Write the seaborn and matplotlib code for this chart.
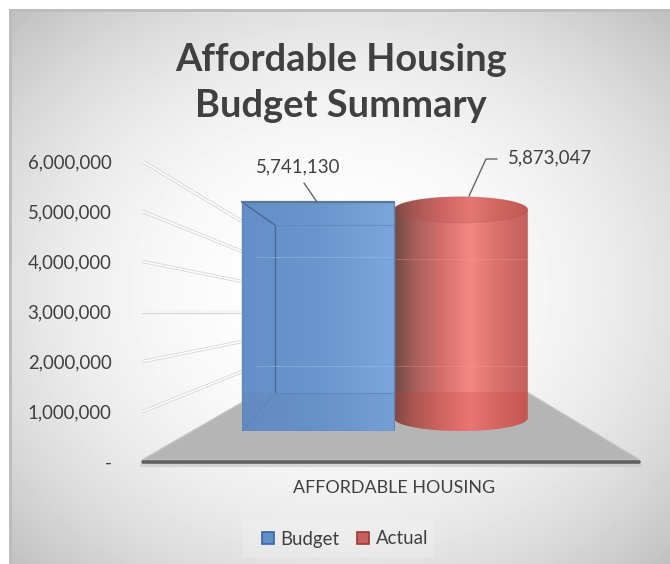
import numpy as np
import pandas as pd
import matplotlib
matplotlib.use('Agg')
import matplotlib.pyplot as plt
import seaborn as sns
from matplotlib.colors import LinearSegmentedColormap
from matplotlib.patches import Ellipse, Patch, Polygon, Rectangle

categories = ['AFFORDABLE HOUSING']
series = ['Budget', 'Actual']
values = [5741130, 5873047]
axis_ticks = [0, 1000000, 2000000, 3000000, 4000000, 5000000, 6000000]
title = 'Affordable Housing\nBudget Summary'

W, H = 670, 564
BLUE = '#5f8fc9'
RED = '#c9605c'
TEXT = '#404040'

sns.set_theme(style='white')
plt.rcParams['font.family'] = ['Lato', 'DejaVu Sans']


def px_axes(fig, left, top, right, bottom, zorder):
    a = fig.add_axes([left / W, 1 - bottom / H, (right - left) / W, (bottom - top) / H])
    a.set_zorder(zorder)
    a.patch.set_alpha(0)
    return a


df = pd.DataFrame({
    'Category': categories * len(series),
    'Series': series,
    'Value': values,
})

fig = plt.figure(figsize=(W / 100, H / 100), dpi=100, facecolor='white')

# background panel, everything here in pixels
back = px_axes(fig, 0, 0, W, H, 0)
back.axis('off')
xx, yy = np.meshgrid(np.arange(9, W), np.arange(9, H))
r = np.sqrt(((xx - 340) / 330) ** 2 + ((yy - 290) / 280) ** 2)
shade = np.clip(255 - 30 * r ** 2.2, 190, 255) / 255
back.imshow(shade, extent=(9, W, H, 9), cmap='gray', vmin=0, vmax=1, aspect='auto')
back.set_xlim(0, W)
back.set_ylim(H, 0)
back.plot([9.5, 9.5, W], [H, 9.5, 9.5], color='#bcbcbc', lw=2)

# floor of the 3d box
back.add_patch(Polygon([(142, 460), (640, 460), (525, 391), (262, 391)], fc='#b5b5b5', ec='#c4c4c4', lw=1))
back.plot([142, 640], [464.5, 464.5], color='#c8c8c8', lw=3, alpha=0.7, solid_capstyle='round')
back.plot([143, 639], [462, 462], color='#606060', lw=2.6, solid_capstyle='round')

# value axis with the tick labels, and the side wall lines
main = px_axes(fig, 142, 161, 640, 462, 1)
main.set_ylim(0, 6000000)
main.set_xlim(0, 1)
main.set_xticks([])
main.set_yticks(axis_ticks)
main.set_yticklabels(['-' if t == 0 else f'{t:,}' for t in axis_ticks], fontsize=13.4, color=TEXT)
main.tick_params(axis='y', length=0, pad=22)
for s in main.spines.values():
    s.set_visible(False)
for t in axis_ticks[1:]:
    back_y = 3000000 + 0.6 * (t - 3000000)
    main.plot([0, 0.2], [t, back_y], color='#cfcfcf', lw=2.4, alpha=0.8)
    main.plot([0, 0.2], [t, back_y], color='white', lw=1.1)

# the bars, same baseline for both, 0 sits at the front of the floor
bars = px_axes(fig, 142, 161, 640, 431, 2)
sns.barplot(data=df, x='Category', y='Value', hue='Series', hue_order=series,
            palette=[BLUE, RED], width=0.8, legend=False, ax=bars)
bars.set_xlabel('')
bars.set_ylabel('')
bars.set_yticks([])
bars.set_ylim(0, values[0] * 270 / 229)
bars.set_xlim(-0.752, 0.735)
bars.tick_params(axis='x', length=0, pad=35, labelsize=12.9, labelcolor=TEXT)
for s in bars.spines.values():
    s.set_visible(False)

budget = bars.containers[0][0]
actual = bars.containers[1][0]
# budget box is a bit wider than the cylinder
extra = 0.4 * 18 / 134
budget.set_x(budget.get_x() - extra)
budget.set_width(budget.get_width() + extra)

x0, x1 = budget.get_x(), budget.get_x() + budget.get_width()
top = budget.get_height()
dy = top / 229  # one pixel in data units
dx = 0.4 / 134

# blue box
blue_cmap = LinearSegmentedColormap.from_list('b', ['#658fc6', '#6a96cd', '#7aa6dc'])
im = bars.imshow(np.linspace(0, 1, 200).reshape(1, -1), extent=(x0, x1, 0, top), cmap=blue_cmap,
                 aspect='auto', zorder=3)
im.set_clip_path(budget)
inner_x = x0 + 33 * dx
bars.add_patch(Rectangle((x0, 0), x1 - x0, 38 * dy, fc='#55769f', alpha=0.12, ec='none', zorder=4))
for xs, ys in [([x0, inner_x], [top, top - 23 * dy]),
               ([inner_x, inner_x], [top - 23 * dy, 38 * dy])]:
    bars.plot(xs, ys, color='#44699c', lw=1, zorder=5)
bars.plot([x0, inner_x], [0, 38 * dy], color='#5d86bb', lw=0.8, zorder=5)
bars.plot([inner_x, x1], [38 * dy, 38 * dy], color='#5a82b6', lw=0.8, alpha=0.7, zorder=5)
bars.plot([inner_x, x1], [top - 23 * dy] * 2, color='#5f86ba', lw=0.8, alpha=0.7, zorder=5)
for v in [65, 174]:
    bars.plot([x0 + 14 * dx, x1], [v * dy, v * dy], color='#9dbde3', lw=0.7, alpha=0.5, zorder=5)
bars.add_patch(Rectangle((x0, 0), x1 - x0, top, fill=False, ec='#6487b0', lw=1, zorder=6))
bars.plot([x0, x1], [top, top], color='#5d7799', lw=1.6, zorder=6)

# red cylinder, outline made from the bar
c0, c1 = actual.get_x(), actual.get_x() + actual.get_width()
c_top = actual.get_height()
cx, rx = (c0 + c1) / 2, (c1 - c0) / 2
ry = 13 * dy
t = np.linspace(np.pi, 2 * np.pi, 60)
outline = np.vstack([
    np.column_stack([cx + rx * np.cos(t), ry + ry * np.sin(t)]),
    np.column_stack([cx + rx * np.cos(t[::-1]), c_top - ry - ry * np.sin(t)[::-1]]),
])
body = Polygon(outline, closed=True, fc='none', ec='none', transform=bars.transData)
bars.add_patch(body)
red_cmap = LinearSegmentedColormap.from_list('r', [
    (0, '#6f4a47'), (0.16, '#a8605c'), (0.38, '#d87270'), (0.57, '#f58683'),
    (0.78, '#d9706c'), (1, '#c4605c')])
im = bars.imshow(np.linspace(0, 1, 256).reshape(1, -1), extent=(c0, c1, 0, c_top), cmap=red_cmap,
                 aspect='auto', zorder=3)
im.set_clip_path(body)
actual.set_visible(False)
fade = bars.add_patch(Rectangle((c0, 0), c1 - c0, 39 * dy, fc='#c83c38', alpha=0.22, ec='none', zorder=4))
fade.set_clip_path(body)
bars.add_patch(Ellipse((cx, c_top - ry), 2 * rx, 2 * ry, fc='#b0403c', alpha=0.22, ec='#a85450', lw=0.8, zorder=5))
for v in [65, 172]:
    bars.plot([c0, c1], [v * dy, v * dy], color='#f2a5a2', lw=0.7, alpha=0.3, zorder=5)
bars.set_xlim(-0.752, 0.735)
bars.set_ylim(0, top * 270 / 229)

# data labels and their leader lines
label_ax = px_axes(fig, 0, 0, W, H, 3)
label_ax.set_xlim(0, W)
label_ax.set_ylim(H, 0)
label_ax.axis('off')
label_ax.text(298, 167, f'{values[0]:,}', ha='center', va='center', fontsize=13.4, color=TEXT)
label_ax.text(550, 158, f'{values[1]:,}', ha='center', va='center', fontsize=13.4, color=TEXT)
label_ax.plot([304, 317], [183, 202], color='#666666', lw=1)
label_ax.plot([497, 486, 469], [159, 159, 196], color='#666666', lw=1)

fig.text(341 / W, 1 - 83 / H, title, ha='center', va='center', fontsize=27.4, fontweight='bold',
         color=TEXT, linespacing=1.42)

# legend
label_ax.add_patch(Rectangle((243, 520), 191, 38, fc='white', alpha=0.18, ec='none'))
handles = [Patch(fc=BLUE, ec='#3a659e', lw=1.2), Patch(fc=RED, ec='#973a38', lw=1.2)]
fig.legend(handles, series, loc='center', bbox_to_anchor=(345 / W, 1 - 539 / H), ncol=2, frameon=False,
           fontsize=13.4, labelcolor=TEXT, handlelength=0.65, handleheight=0.65, handletextpad=0.35,
           columnspacing=0.97)

fig.savefig('out.png', dpi=100)
